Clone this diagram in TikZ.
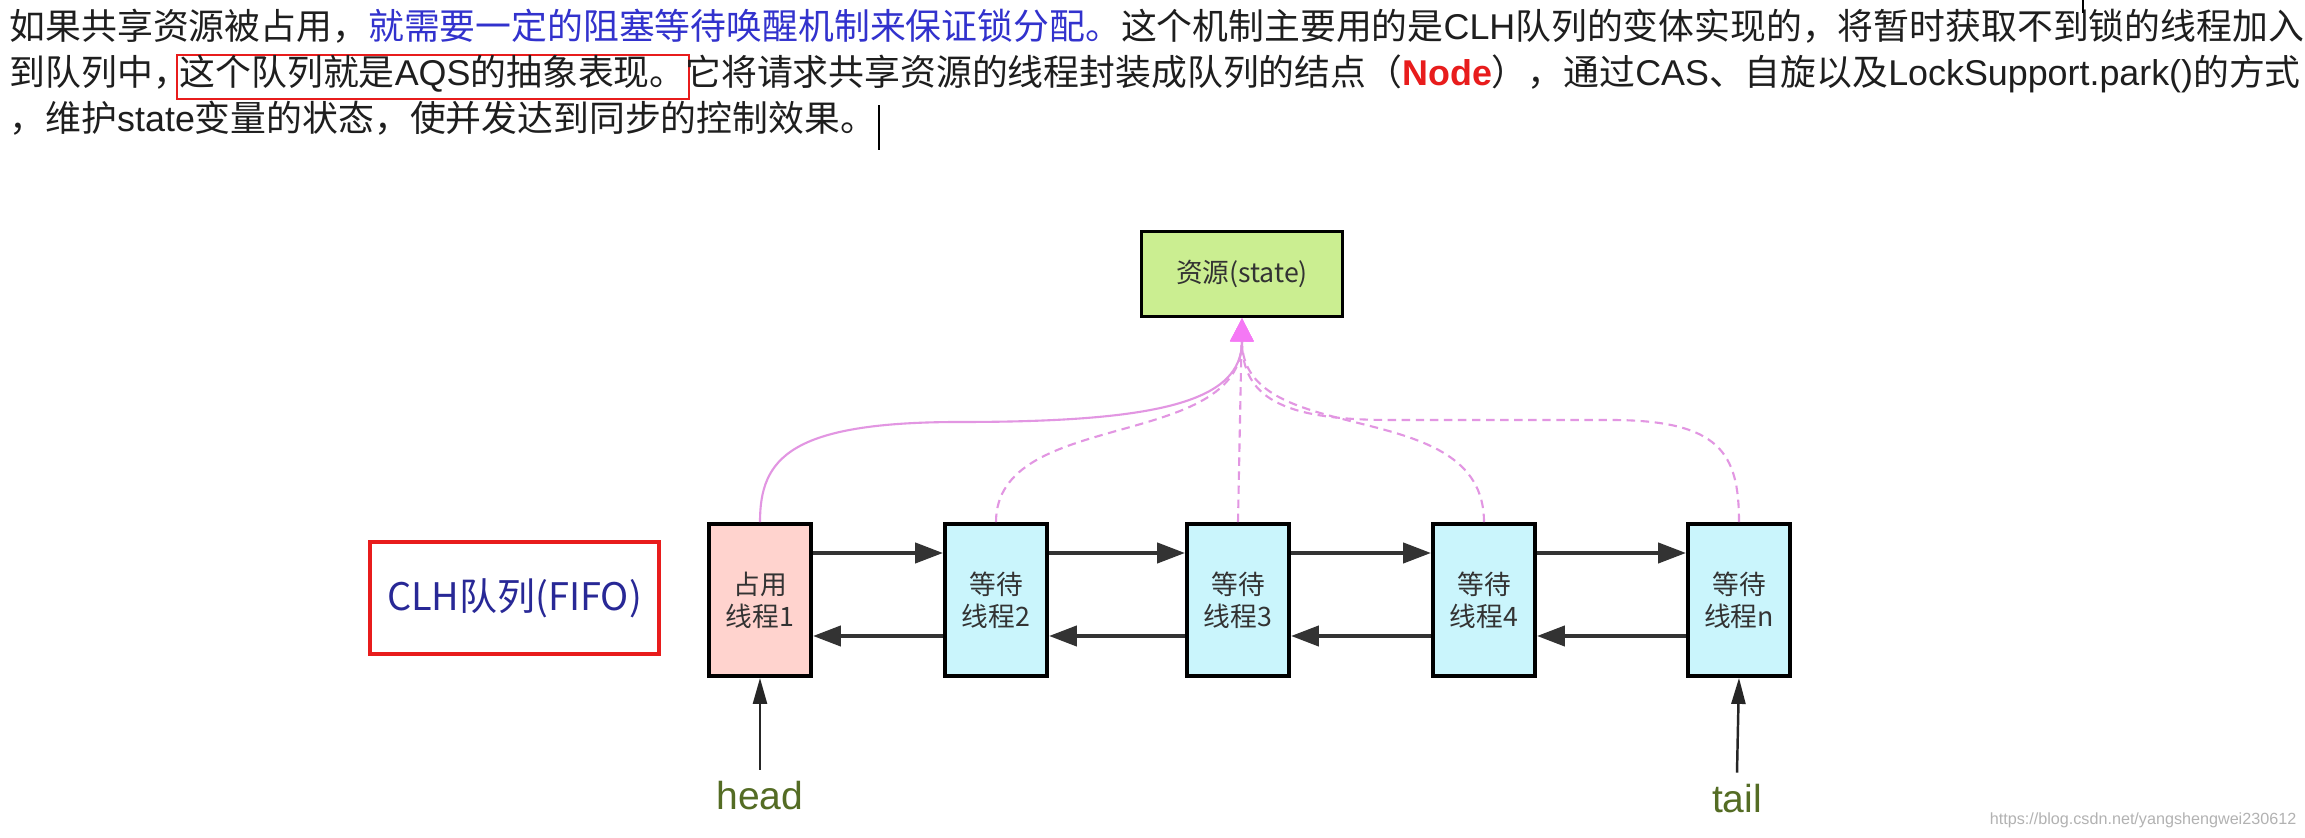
\documentclass[tikz,border=0pt]{standalone}
\usepackage{fontspec}
\setmainfont{Noto Sans CJK SC}
\newfontfamily\latinfont{Liberation Sans}
\usepackage{tikz}
\usetikzlibrary{arrows.meta, positioning}

\definecolor{holdpink}{RGB}{255,211,206}
\definecolor{waitcyan}{RGB}{202,245,252}
\definecolor{resgreen}{RGB}{203,238,145}
\definecolor{caspink}{RGB}{226,150,226}
\definecolor{tippink}{RGB}{245,120,245}
\definecolor{clhblue}{RGB}{40,40,150}
\definecolor{markblue}{RGB}{50,50,205}
\definecolor{boxred}{RGB}{232,28,28}
\definecolor{ptrgreen}{RGB}{84,108,36}
\definecolor{inkgray}{RGB}{30,30,30}

\newcommand{\entxt}[1]{{\latinfont #1}}

\tikzstyle{qnode} = [
  rectangle, draw=black, line width=1.1pt, fill=waitcyan,
  minimum width=1.02cm, minimum height=1.52cm, align=center,
  text=black!80, font=\fontsize{7.6}{9.1}\selectfont
]
\tikzstyle{holdnode} = [qnode, fill=holdpink]
\tikzstyle{resnode} = [
  rectangle, draw=black, line width=1.1pt, fill=resgreen,
  minimum width=2.01cm, minimum height=0.85cm,
  text=black!80, font=\fontsize{7.6}{9.1}\selectfont
]
\tikzstyle{qarrow} = [-{Triangle[length=2.8mm, width=2mm]}, line width=1.2pt, black!80]
\tikzstyle{casarrow} = [-{Triangle[length=2.3mm, width=2.3mm, color=tippink]}, line width=0.6pt, caspink]
\tikzstyle{casdashed} = [casarrow, dash pattern=on 2.4pt off 1.6pt]
\tikzstyle{ptrarrow} = [-{Triangle[length=2.6mm, width=1.4mm]}, line width=0.7pt, black!85]
\tikzstyle{ptrlabel} = [
  anchor=base, inner sep=0pt, outer ysep=1.2mm, text=ptrgreen,
  font=\latinfont\fontsize{11.1}{13}\selectfont
]
\tikzstyle{textline} = [anchor=base west, inner sep=0pt, text=inkgray, font=\fontsize{10.2}{12}\selectfont]

\begin{document}
\begin{tikzpicture}

  \fill[white] (0,0) rectangle (23.05,-8.38);
  \useasboundingbox (0,0) rectangle (23.05,-8.38);

  % paragraph above the diagram
  \node[textline] (l1) at (0.09,-0.40) {如果共享资源被占用，{\color{markblue}就需要一定的阻塞等待唤醒机制来保证锁分配。}这个机制主要用的是\entxt{CLH}队列的变体实现的，将暂时获取不到锁的线程加入};
  \node[textline] (l2a) at (0.09,-0.86) {到队列中，};
  \node[textline, draw=boxred, line width=0.6pt, inner xsep=0.3mm, text height=3.1mm, text depth=1.3mm, xshift=-1.4mm] (l2b) at (l2a.base east) {这个队列就是\entxt{AQS}的抽象表现。};
  \node[textline, xshift=-0.5mm] (l2c) at (l2b.base east) {它将请求共享资源的线程封装成队列的结点（{\color{boxred}\latinfont\bfseries Node}），通过\entxt{CAS}、自旋以及\entxt{LockSupport.park()}的方式};
  \node[textline] (l3) at (0.09,-1.32) {，维护\entxt{state}变量的状态，使并发达到同步的控制效果。};
  \draw[line width=0.6pt] ([xshift=0.2mm]l3.base east) ++(0,-0.18) -- ++(0,0.45);
  \draw[line width=0.5pt] (20.83,0) -- (20.83,-0.13);

  % resource and queue
  \node[resnode] (res) at (12.42,-2.74) {资源(state)};
  \node[draw=boxred, line width=1.2pt, minimum width=2.89cm, minimum height=1.12cm,
        text=clhblue, font=\fontsize{10.8}{12}\selectfont] (clh) at (5.145,-5.98) {CLH队列(FIFO)};
  \node[holdnode] (t1) at (7.60,-6.00) {占用\\线程1};
  \node[qnode] (t2) at (9.96,-6.00) {等待\\线程2};
  \node[qnode] (t3) at (12.38,-6.00) {等待\\线程3};
  \node[qnode] (t4) at (14.84,-6.00) {等待\\线程4};
  \node[qnode] (tn) at (17.39,-6.00) {等待\\线程n};

  % next / prev links
  \foreach \a/\b in {t1/t2, t2/t3, t3/t4, t4/tn} {
    \draw[qarrow] ([yshift=4.7mm]\a.east) -- ([yshift=4.7mm]\b.west);
    \draw[qarrow] ([yshift=-3.6mm]\b.west) -- ([yshift=-3.6mm]\a.east);
  }

  % every thread goes for the state
  \coordinate (holdbend) at (9.6,-4.22);
  \coordinate (tailbend) at (16.1,-4.20);
  \coordinate (tailflat) at (13.9,-4.20);
  \draw[casarrow] (t1.north) .. controls +(0,0.64) and +(-1.7,0) .. (holdbend)
    .. controls +(2.0,0) and +(0,-0.83) .. (res.south);
  \draw[casdashed] (t2.north) .. controls +(0,1.14) and +(0,-1.33) .. (res.south);
  \draw[casdashed] (t3.north) -- (res.south);
  \draw[casdashed] (t4.north) .. controls +(0,1.3) and +(0,-1.33) .. (res.south);
  \draw[casdashed] (tn.north) .. controls +(0,0.69) and +(1.1,0) .. (tailbend) -- (tailflat)
    .. controls +(-1.1,0) and +(0,-0.78) .. (res.south);

  % head and tail pointers
  \node[ptrlabel] (head) at (7.60,-8.10) {head};
  \node[ptrlabel] (tail) at (17.37,-8.13) {tail};
  \draw[ptrarrow] (head.north) -- (t1.south);
  \draw[ptrarrow] (tail.north) -- (tn.south);

  \node[anchor=base east, inner sep=0pt, text=black!30,
        font=\latinfont\fontsize{4.6}{6}\selectfont] (mark) at (22.97,-8.25) {https://blog.csdn.net/yangshengwei230612};

\end{tikzpicture}
\end{document}
